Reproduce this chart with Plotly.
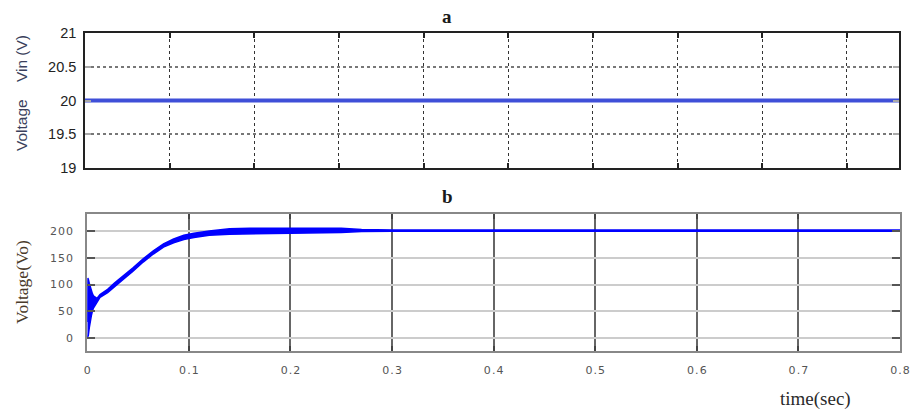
import plotly.graph_objects as go

# Panel a: input voltage (constant)
vin_time = [0.0, 0.9615]
vin_values = [20.0, 20.0]

# Panel b: output voltage envelope
vo_time = [0.0, 0.0005, 0.001, 0.002, 0.003, 0.004, 0.005, 0.006, 0.008, 0.0095,
           0.0125, 0.02, 0.027, 0.035, 0.045, 0.055, 0.065, 0.075, 0.085, 0.095,
           0.105, 0.12, 0.14, 0.16, 0.2, 0.25, 0.27, 0.3, 0.8]
vo_upper = [30, 112, 110, 102, 94, 88, 83, 79, 75, 74,
            81, 91, 103, 115, 131, 148, 163, 176, 185, 192,
            196, 200, 204, 205, 205, 205, 203, 202, 202]
vo_lower = [0, 2, 5, 20, 34, 42, 50, 56, 62, 66,
            76, 85, 97, 109, 125, 142, 157, 170, 178, 184,
            188, 192, 194, 195, 196, 197, 199, 199.5, 199.5]

a_yticks = [19, 19.5, 20, 20.5, 21]
a_yticklabels = ["19", "19.5", "20", "20.5", "21"]
b_yticks = [0, 50, 100, 150, 200]
b_yticklabels = ["0", "50", "100", "150", "200"]
b_xticks = [0, 0.1, 0.2, 0.3, 0.4, 0.5, 0.6, 0.7, 0.8]
b_xticklabels = ["0", "0.1", "0.2", "0.3", "0.4", "0.5", "0.6", "0.7", "0.8"]

W, H = 912, 411
HS = "\u200a"  # hair space, widens tick label spacing


def px(x):
    return x / W


def py(y):
    return 1 - y / H


def spaced(labels):
    return [HS.join(list(s)) for s in labels]


fig = go.Figure()

fig.add_trace(go.Scatter(x=vin_time, y=vin_values, mode="lines",
                         line=dict(color="#3f4fd8", width=4),
                         xaxis="x", yaxis="y", showlegend=False))

fig.add_trace(go.Scatter(x=vo_time, y=vo_lower, mode="lines",
                         line=dict(color="#0000ff", width=1.5),
                         xaxis="x2", yaxis="y2", showlegend=False))
fig.add_trace(go.Scatter(x=vo_time, y=vo_upper, mode="lines",
                         line=dict(color="#0000ff", width=1.5),
                         fill="tonexty", fillcolor="#0000ff",
                         xaxis="x2", yaxis="y2", showlegend=False))

tickfont_a = dict(family="Liberation Sans, Arial", size=14.5, color="#222222")
tickfont_b = dict(family="DejaVu Sans", size=11, color="#555555")

fig.update_layout(
    width=W, height=H,
    margin=dict(l=0, r=0, t=0, b=0, pad=0, autoexpand=False),
    paper_bgcolor="white", plot_bgcolor="white",
    xaxis=dict(domain=[px(85), px(899)], range=[0, 0.9615], dtick=0.1,
               showticklabels=False, showgrid=True, griddash="dot",
               gridcolor="#333333", gridwidth=1,
               showline=True, linecolor="#222222", linewidth=1.5, mirror="ticks",
               ticks="inside", ticklen=5, tickcolor="#222222", tickwidth=2,
               zeroline=False, anchor="y", automargin=False),
    yaxis=dict(domain=[py(168), py(33)], range=[19, 21],
               tickvals=a_yticks, ticktext=a_yticklabels, tickfont=tickfont_a,
               showgrid=True, griddash="dot", gridcolor="#777777", gridwidth=1.5,
               showline=True, linecolor="#222222", linewidth=1.5, mirror="ticks",
               ticks="inside", ticklen=6, tickcolor="#aaaaaa", tickwidth=2,
               zeroline=False, anchor="x", ticklabelstandoff=4, automargin=False),
    xaxis2=dict(domain=[px(87.3), px(900)], range=[0, 0.8],
                tickvals=b_xticks, ticktext=spaced(b_xticklabels), tickfont=tickfont_b,
                showgrid=True, gridcolor="#666666", gridwidth=1.5,
                showline=True, linecolor="#888888", linewidth=2, mirror="ticks",
                ticks="inside", ticklen=5, tickcolor="#444444", tickwidth=2,
                zeroline=False, anchor="y2", ticklabelstandoff=8, automargin=False),
    yaxis2=dict(domain=[py(351), py(214)], range=[-24.3, 231.8],
                tickvals=b_yticks, ticktext=spaced(b_yticklabels), tickfont=tickfont_b,
                showgrid=True, gridcolor="#cccccc", gridwidth=2,
                showline=True, linecolor="#888888", linewidth=2, mirror="ticks",
                ticks="inside", ticklen=8, tickcolor="#555555", tickwidth=1.5,
                zeroline=False, anchor="x2", ticklabelstandoff=10, automargin=False),
    annotations=[
        dict(text="<b>a</b>", x=px(447), y=py(17), xref="paper", yref="paper",
             xanchor="center", yanchor="middle", showarrow=False,
             font=dict(family="Liberation Serif", size=19, color="#1a1a1a")),
        dict(text="<b>b</b>", x=px(447), y=py(196), xref="paper", yref="paper",
             xanchor="center", yanchor="middle", showarrow=False,
             font=dict(family="Liberation Serif", size=19, color="#1a1a1a")),
        dict(text="Voltage    Vin (V)", x=px(21), y=py(93), xref="paper", yref="paper",
             xanchor="center", yanchor="middle", showarrow=False, textangle=-90,
             font=dict(family="Liberation Sans", size=15.5, color="#3a3f5c")),
        dict(text="Voltage(Vo)", x=px(22), y=py(282), xref="paper", yref="paper",
             xanchor="center", yanchor="middle", showarrow=False, textangle=-90,
             font=dict(family="Liberation Serif", size=17.5, color="#4a3a2a")),
        dict(text="time(sec)", x=px(815), y=py(399), xref="paper", yref="paper",
             xanchor="center", yanchor="middle", showarrow=False,
             font=dict(family="Liberation Serif", size=19, color="#2a2a2a")),
    ],
)

fig.write_html("out.html")
